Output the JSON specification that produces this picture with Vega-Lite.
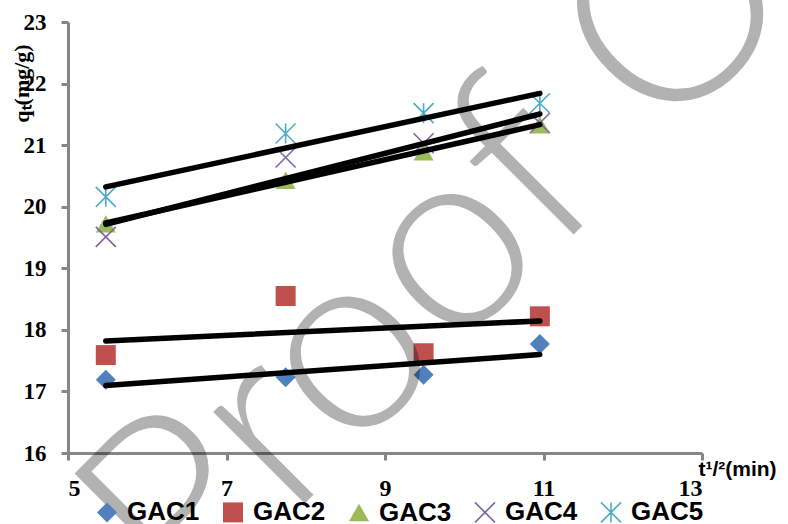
{
  "$schema": "https://vega.github.io/schema/vega-lite/v6.json",
  "width": 634,
  "height": 431,
  "autosize": {"type": "none"},
  "padding": {"left": 68, "top": 22, "right": 86, "bottom": 71},
  "background": "white",
  "config": {"view": {"stroke": null}},
  "data": {
    "values": [
      {"series": "GAC1", "t": 5.477, "q": 17.19},
      {"series": "GAC1", "t": 7.746, "q": 17.23},
      {"series": "GAC1", "t": 9.487, "q": 17.27},
      {"series": "GAC1", "t": 10.954, "q": 17.77},
      {"series": "GAC2", "t": 5.477, "q": 17.59},
      {"series": "GAC2", "t": 7.746, "q": 18.55},
      {"series": "GAC2", "t": 9.487, "q": 17.62},
      {"series": "GAC2", "t": 10.954, "q": 18.22},
      {"series": "GAC3", "t": 5.477, "q": 19.72},
      {"series": "GAC3", "t": 7.746, "q": 20.43},
      {"series": "GAC3", "t": 9.487, "q": 20.89},
      {"series": "GAC3", "t": 10.954, "q": 21.33},
      {"series": "GAC4", "t": 5.477, "q": 19.51},
      {"series": "GAC4", "t": 7.746, "q": 20.80},
      {"series": "GAC4", "t": 9.487, "q": 21.03},
      {"series": "GAC4", "t": 10.954, "q": 21.36},
      {"series": "GAC5", "t": 5.477, "q": 20.16},
      {"series": "GAC5", "t": 7.746, "q": 21.19},
      {"series": "GAC5", "t": 9.487, "q": 21.52},
      {"series": "GAC5", "t": 10.954, "q": 21.68}
    ]
  },
  "layer": [
    {
      "mark": {"type": "point", "filled": true, "strokeWidth": 1.6, "opacity": 1},
      "encoding": {
        "x": {
          "field": "t", "type": "quantitative",
          "scale": {"domain": [5, 13], "nice": false, "zero": false},
          "axis": {
            "values": [5, 7, 9, 11, 13], "format": "d", "grid": false,
            "domainColor": "#868686", "domainWidth": 3,
            "tickColor": "#868686", "tickWidth": 3, "tickSize": 7,
            "labelFont": "Liberation Serif, Times New Roman, serif", "labelFontWeight": "bold", "labelFontSize": 24,
            "labelColor": "black", "labelPadding": 16,
            "title": "t¹/²(min)", "titleX": 669, "titleY": 16,
            "titleFont": "Liberation Sans, Arial, sans-serif", "titleFontSize": 21, "titleFontWeight": "bold",
            "titleColor": "black", "titleAlign": "center", "titleBaseline": "middle"
          }
        },
        "y": {
          "field": "q", "type": "quantitative",
          "scale": {"domain": [16, 23], "nice": false, "zero": false},
          "axis": {
            "values": [16, 17, 18, 19, 20, 21, 22, 23], "format": "d", "grid": false,
            "domainColor": "#868686", "domainWidth": 3,
            "tickColor": "#868686", "tickWidth": 3, "tickSize": 7,
            "labelFont": "Liberation Serif, Times New Roman, serif", "labelFontWeight": "bold", "labelFontSize": 23,
            "labelColor": "black", "labelPadding": 15,
            "title": "qₜ(mg/g)", "titleX": -47, "titleY": 61,
            "titleFont": "Liberation Serif, Times New Roman, serif", "titleFontSize": 22, "titleFontWeight": "bold",
            "titleColor": "black", "titleAlign": "center", "titleBaseline": "middle", "titleAngle": 270
          }
        },
        "shape": {
          "field": "series", "type": "nominal",
          "scale": {
            "domain": ["GAC1", "GAC2", "GAC3", "GAC4", "GAC5"],
            "range": ["diamond", "square", "triangle-up", "M-1,-1L1,1M-1,1L1,-1", "M-1,-1L1,1M-1,1L1,-1M0,-1L0,1"]
          },
          "legend": {
            "orient": "none", "direction": "horizontal", "columns": 5, "title": null,
            "legendX": 26, "legendY": 477,
            "labelFont": "Liberation Sans, Arial, sans-serif", "labelFontWeight": "bold", "labelFontSize": 26,
            "labelColor": "black", "labelOffset": 7, "columnPadding": 19,
            "symbolSize": 400, "symbolStrokeWidth": 1.6, "padding": 0
          }
        },
        "fill": {
          "field": "series", "type": "nominal",
          "scale": {
            "domain": ["GAC1", "GAC2", "GAC3", "GAC4", "GAC5"],
            "range": ["#4F81BD", "#C0504D", "#9BBB59", "transparent", "transparent"]
          }
        },
        "stroke": {
          "field": "series", "type": "nominal",
          "scale": {
            "domain": ["GAC1", "GAC2", "GAC3", "GAC4", "GAC5"],
            "range": ["transparent", "transparent", "transparent", "#8064A2", "#4BACC6"]
          }
        },
        "size": {"value": 400}
      }
    },
    {
      "transform": [{"regression": "q", "on": "t", "groupby": ["series"]}],
      "mark": {"type": "line", "color": "black", "strokeWidth": 5.5, "strokeCap": "round"},
      "encoding": {
        "x": {"field": "t", "type": "quantitative"},
        "y": {"field": "q", "type": "quantitative"},
        "detail": {"field": "series"}
      }
    },
    {
      "data": {"values": [{"label": "Proof Only"}]},
      "mark": {
        "type": "text", "angle": -45, "align": "left", "baseline": "alphabetic",
        "fontSize": 260, "font": "Lato, Liberation Sans, sans-serif", "fontWeight": 300,
        "fill": "#000000", "fillOpacity": 0.3, "strokeWidth": 0
      },
      "encoding": {
        "text": {"field": "label"},
        "x": {"datum": 6.481},
        "y": {"datum": 13.242}
      }
    }
  ]
}
